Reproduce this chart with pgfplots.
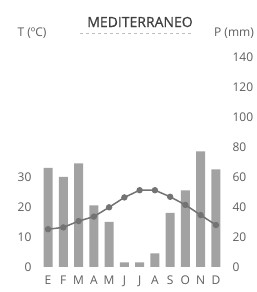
\documentclass[border=0pt]{standalone}
\usepackage{fontspec}
\setmainfont{Open Sans}
\newfontfamily\titlefont[FakeBold=0.7]{Open Sans}
\usepackage{pgfplots}
\pgfplotsset{compat=1.18}
\definecolor{txt}{HTML}{5E5E5E}
\definecolor{barc}{HTML}{A2A2A2}
\definecolor{linec}{HTML}{737373}
\begin{document}
\begin{tikzpicture}[x=1pt,y=1pt]
\useasboundingbox (0,0) rectangle (257,292);
\pgfplotsset{
  common/.style={
    at={(36pt,25pt)}, anchor=south west,
    scale only axis, width=192pt, height=225pt,
    xmin=-0.79, xmax=11.79,
    axis line style={draw=none}, major tick style={draw=none},
    clip=false,
    /pgf/number format/assume math mode=true,
    tick label style={font=\fontsize{12}{14}\selectfont, text=txt},
  }
}
% Precipitation (bars, right axis)
\begin{axis}[common,
  ymin=0, ymax=150,
  axis y line*=right, axis x line=none,
  ytick={0,20,...,140},
  yticklabel style={anchor=west, xshift=1pt},
]
\addplot[ybar, bar width=9pt, fill=barc, draw=none] coordinates {
 (0,66) (1,60) (2,69) (3,41) (4,30) (5,3) (6,3) (7,9) (8,36) (9,51) (10,77) (11,65)};
\end{axis}
% Temperature (line, left axis)
\begin{axis}[common,
  ymin=0, ymax=75,
  axis y line*=left,
  ytick={0,10,20,30},
  xtick={0,...,11},
  xticklabels={E,F,M,A,M,J,J,A,S,O,N,D},
  xticklabel style={anchor=base, yshift=-17pt},
  yticklabel style={anchor=east, xshift=-1pt},
]
\addplot[color=linec, line width=1.5pt, mark=*, mark size=2.4pt, mark options={fill=linec}] coordinates {
 (0,12.6) (1,13.2) (2,15.3) (3,16.8) (4,19.9) (5,23.2) (6,25.6) (7,25.6) (8,23.4) (9,20.7) (10,17.3) (11,14.0)};
\end{axis}
\node[text=txt, font=\fontsize{12}{14}\selectfont] at (32,259) {T (ºC)};
\node[text=txt, font=\fontsize{12}{14}\selectfont] at (234,259) {P (mm)};
\node[text=black!75, font=\titlefont\fontsize{14}{16}\selectfont] at (140,270) {MEDITERRANEO};
\draw[black!25, dashed, line width=0.5pt] (80,259) -- (193,259);
\end{tikzpicture}
\end{document}
